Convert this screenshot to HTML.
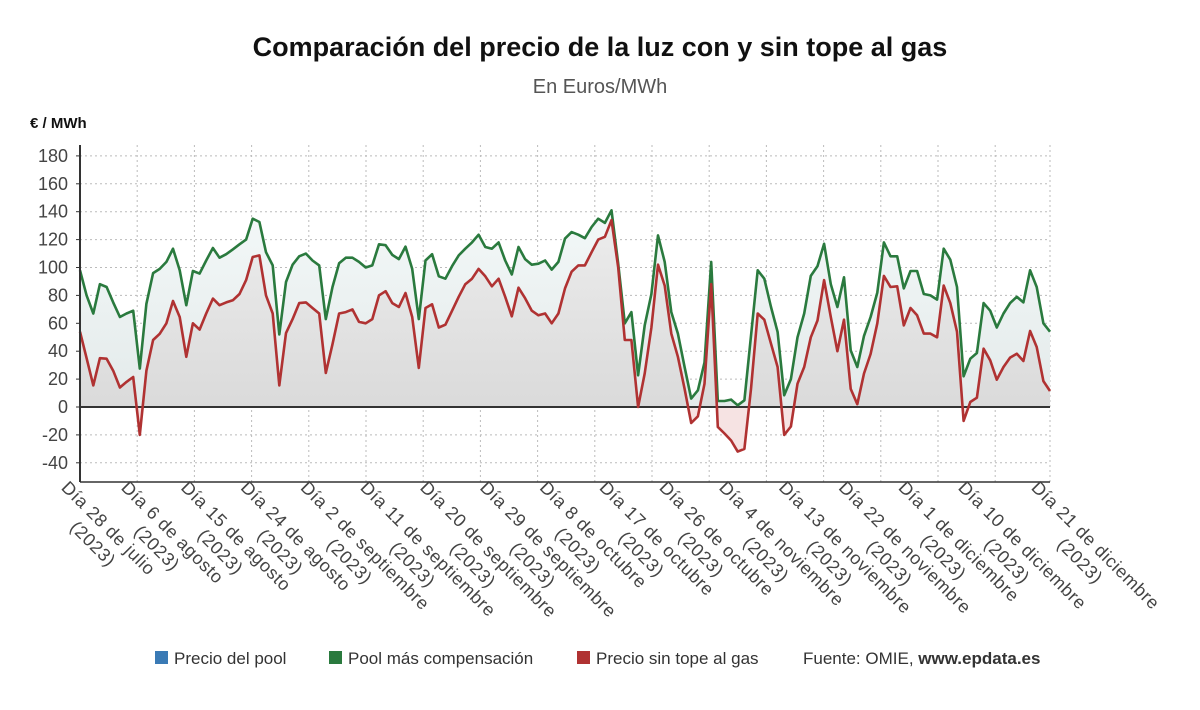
<!DOCTYPE html>
<html><head><meta charset="utf-8"><style>
body{margin:0;background:#fff;font-family:"Liberation Sans",sans-serif;}
svg text{font-family:"Liberation Sans",sans-serif;}
</style></head><body>
<svg id="chart" width="1200" height="705" viewBox="0 0 1200 705" xmlns="http://www.w3.org/2000/svg">
<defs>
<linearGradient id="gArea" x1="0" y1="0" x2="0" y2="1"><stop offset="0" stop-color="#f3f8f8"/><stop offset="1" stop-color="#e3eaea"/></linearGradient>
<linearGradient id="rArea" x1="0" y1="0" x2="0" y2="1"><stop offset="0" stop-color="#ececec"/><stop offset="1" stop-color="#d6d6d6"/></linearGradient>
<clipPath id="pos"><rect x="0" y="0" width="1200" height="407"/></clipPath>
<clipPath id="neg"><rect x="0" y="407" width="1200" height="300"/></clipPath>
</defs>
<text x="600" y="56" text-anchor="middle" font-size="27" font-weight="bold" fill="#111">Comparación del precio de la luz con y sin tope al gas</text>
<text x="600" y="93" text-anchor="middle" font-size="20" fill="#555">En Euros/MWh</text>
<text x="30" y="128" font-size="15" font-weight="bold" fill="#111">€ / MWh</text>
<g id="grid"></g><g id="areas"></g><g id="lines"></g><g id="axes"></g><g id="xlabels"></g>
<g font-size="17" fill="#333">
<rect x="155" y="651" width="13" height="13" fill="#3a7ab5"/>
<text x="174" y="664">Precio del pool</text>
<rect x="329" y="651" width="13" height="13" fill="#2a7a3e"/>
<text x="348" y="664">Pool más compensación</text>
<rect x="577" y="651" width="13" height="13" fill="#b03232"/>
<text x="596" y="664">Precio sin tope al gas</text>
<text x="803" y="664">Fuente: OMIE, <tspan font-weight="bold">www.epdata.es</tspan></text>
</g>
</svg>
<script>
const green=[98,80,67,88,86,75,64.5,67,69,27.5,74,96,99,104,113.5,98,73,97.5,95.6,105,114,107,109.5,113,116.6,120,135,132.6,111,101.5,52,89.6,102,108,110,105,101.5,63,86,103,107,107,104,100,101.5,116.6,116,109,106,115,99,63,105,109.5,93.7,92,101,108.7,113.5,118,123.5,114.7,113.5,118,105,95,114.7,106,102,102.7,105,98.5,104,120.7,125.4,123.5,121,129,135,132,141,102.7,60,68,22.7,58.5,81,123,104,68,52.6,28.7,6,12,32,104,4.3,4.3,5.3,1.2,4.8,51,98,92,71.7,53.8,8.4,20,50,67,94,101,117,88,71.7,93,40.6,28.7,51,64.5,82,118,108,108,85,97.5,97.5,81,80,77,113.5,105.6,86,22,34.6,38.7,74.5,69,57,67,74.5,79,75,98,86,60,54];
const red=[54,35,15.5,35,34.6,26,14,18,21.5,-20,26,48,52.5,60,76,64.5,36,60,55.5,67,77.7,73,75,76.5,81,91,107.5,108.7,80,67,15.5,53,63,74.5,75,71,67,24.4,45,67,68,70,61,60,63,80,83,74.5,71.7,81.7,64.5,28,71,73.6,57,59,69,79,88,92,99,93.7,86.5,92,79,65,85.5,78,69,65.7,67,60,67,85,97,101.5,101.5,111,120,122,134,100,48,48,0,24,57,102,87,52.6,36,13,-11.5,-6.7,16.7,88,-14.3,-19,-24,-32,-30,13,67,62.6,45.4,28.7,-20,-14,16.7,28.7,50,62,91,64.5,40,62.6,13,2,24,38,60,94,86,86.5,58.5,71,65.7,52.6,52.6,50,87,74.5,54,-10,3.6,6.7,41.8,33.5,19.6,28.7,35.4,38.2,33,54.5,43,18.6,11.5];
const yTicks=[-40,-20,0,20,40,60,80,100,120,140,160,180];
const xLabels=["Día 28 de julio","Día 6 de agosto","Día 15 de agosto","Día 24 de agosto","Día 2 de septiembre","Día 11 de septiembre","Día 20 de septiembre","Día 29 de septiembre","Día 8 de octubre","Día 17 de octubre","Día 26 de octubre","Día 4 de noviembre","Día 13 de noviembre","Día 22 de noviembre","Día 1 de diciembre","Día 10 de diciembre","Día 21 de diciembre"];
const xLabelIdx=[0,9,18,27,36,45,54,63,72,81,90,99,108,117,126,135,146];
const NS="http://www.w3.org/2000/svg";
const X0=80,X1=1050,Y0=407,PX=1.395;
const N=green.length;
const x=i=>X0+i*(X1-X0)/(N-1);
const y=v=>Y0-v*PX;
function mk(tag,attrs,parent){const e=document.createElementNS(NS,tag);for(const k in attrs)e.setAttribute(k,attrs[k]);parent.appendChild(e);return e;}
const grid=document.getElementById('grid'),areas=document.getElementById('areas'),lines=document.getElementById('lines'),axes=document.getElementById('axes'),xl=document.getElementById('xlabels');
yTicks.forEach(t=>{
 const l=mk('line',{x1:X0,x2:X1,y1:y(t),y2:y(t),stroke:'#bbb','stroke-dasharray':'2,3','stroke-width':1},grid);
 
 
 const tx=mk('text',{x:68,y:y(t)+6,'text-anchor':'end','font-size':18,fill:'#444'},axes);
 
 
 tx.textContent=t;
 mk('line',{x1:X0-4,x2:X0,y1:y(t),y2:y(t),stroke:'#333'},axes);
});
const step=57.2;
for(let k=0;k<=17;k++){
 const gx=Math.min(X0+k*step,X1);
 const l=mk('line',{x1:gx,x2:gx,y1:145,y2:482,stroke:'#bbb','stroke-dasharray':'2,3'},grid);
 
 
}
xLabels.forEach((lab,k)=>{
 const tx=x(xLabelIdx[k])-9;
 const g=mk('g',{transform:`translate(${tx},478) rotate(45)`},xl);
 const t1=mk('text',{x:0,y:15,'font-size':18,fill:'#444','letter-spacing':'0.6'},g);
 
 
 t1.textContent=lab;
 const w=t1.getComputedTextLength();
 const t2=mk('text',{x:w/2,y:37,'font-size':18,fill:'#444','text-anchor':'middle','letter-spacing':'0.6'},g);
 
 
 t2.textContent='(2023)';
});
function pts(a){return a.map((v,i)=>x(i).toFixed(1)+','+y(v).toFixed(1)).join(' ');}
function area(a){return `M${x(0)},${Y0} L`+pts(a).split(' ').join(' L')+` L${x(N-1)},${Y0} Z`;}
const ga=mk('path',{d:area(green),fill:'url(#gArea)'},areas);


const ra=mk('path',{d:area(red),fill:'url(#rArea)','clip-path':'url(#pos)'},areas);


const rn=mk('path',{d:area(red),fill:'#f6e3e3','clip-path':'url(#neg)'},areas);


const zl=mk('line',{x1:X0,x2:X1,y1:Y0,y2:Y0,stroke:'#333','stroke-width':2},lines);


const gl=mk('polyline',{points:pts(green),fill:'none',stroke:'#2a7a3e','stroke-width':2.6,'stroke-linejoin':'round'},lines);


const rl=mk('polyline',{points:pts(red),fill:'none',stroke:'#b03232','stroke-width':2.6,'stroke-linejoin':'round'},lines);


const ax=mk('line',{x1:X0,x2:X0,y1:145,y2:482,stroke:'#333','stroke-width':2},axes);


const bx=mk('line',{x1:X0,x2:X1,y1:482,y2:482,stroke:'#333','stroke-width':1.5},axes);


</script>
</body></html>
